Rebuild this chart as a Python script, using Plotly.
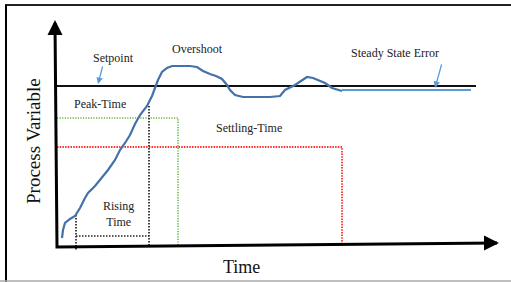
import plotly.graph_objects as go

# ---- data (diagram coordinates: x = time, y = process variable in screen units, y reversed) ----
curve_x = [62, 63, 65, 70, 75, 80, 85, 88, 95, 100, 108, 115, 120, 125, 130, 135, 140, 147, 152, 155,
           158, 162, 167, 172, 180, 190, 197, 203, 210, 216, 222, 227, 230, 235, 243, 255, 270, 280,
           285, 295, 302, 307, 313, 318, 325, 332, 342]
curve_y = [238, 230, 223, 219, 216, 208, 198, 193, 186, 180, 170, 160, 150, 143, 135, 124, 115, 106, 96, 88,
           80, 72, 68, 66, 66, 66, 67, 71, 74, 76, 79, 85, 90, 95, 97, 97, 97, 96,
           90, 85, 80, 77, 78, 80, 83, 88, 91]

setpoint_x = [57, 476]
setpoint_y = [86, 86]
steady_x = [342, 471]
steady_y = [90, 90]

axis_x = [55, 57, 497]
axis_y = [23, 247, 243]

green_x = [57, 178, 178]
green_y = [118, 118, 247]
red_x = [57, 342, 342]
red_y = [147, 147, 244]
black_dot_x = [149, 149, None, 76, 149, None, 76, 76]
black_dot_y = [106, 247, None, 236, 236, None, 215, 250]

labels = ["Setpoint", "Overshoot", "Peak-Time", "Settling-Time", "Steady State Error", "Rising<br>Time"]
label_x = [113, 197, 100, 249, 395, 118]
label_y = [58, 49, 104, 128, 53, 214]

fig = go.Figure()

def line(x, y, color, width, dash="solid"):
    fig.add_trace(go.Scatter(x=x, y=y, mode="lines", line=dict(color=color, width=width, dash=dash),
                             hoverinfo="skip", showlegend=False))

line(green_x, green_y, "#5cb83c", 1.6, "1.2px,1.4px")
line(red_x, red_y, "#ff3030", 1.8, "1.5px,1.2px")
line(black_dot_x, black_dot_y, "#222222", 1.7, "1.5px,1.5px")
line(setpoint_x, setpoint_y, "#111111", 2)
line(steady_x, steady_y, "#5b9bd5", 2)
line(curve_x, curve_y, "#4472a8", 2.2)
line(axis_x, axis_y, "#000000", 3)

# axis arrowheads
fig.add_annotation(x=axis_x[0], y=axis_y[0] - 3, ax=axis_x[0], ay=axis_y[0] + 6, xref="x", yref="y",
                   axref="x", ayref="y", showarrow=True, arrowhead=2, arrowsize=1, arrowwidth=3,
                   arrowcolor="#000000", text="")
fig.add_annotation(x=axis_x[2] + 2, y=axis_y[2], ax=axis_x[2] - 8, ay=axis_y[2], xref="x", yref="y",
                   axref="x", ayref="y", showarrow=True, arrowhead=2, arrowsize=1, arrowwidth=3,
                   arrowcolor="#000000", text="")

# pointer arrows
fig.add_annotation(x=98, y=84, ax=103, ay=65, xref="x", yref="y", axref="x", ayref="y",
                   showarrow=True, arrowhead=2, arrowsize=1, arrowwidth=1.3, arrowcolor="#5b9bd5", text="")
fig.add_annotation(x=435, y=88, ax=442, ay=63, xref="x", yref="y", axref="x", ayref="y",
                   showarrow=True, arrowhead=2, arrowsize=1, arrowwidth=1.3, arrowcolor="#5b9bd5", text="")

for t, x, y in zip(labels, label_x, label_y):
    fig.add_annotation(x=x, y=y, text=t, showarrow=False, xref="x", yref="y",
                       font=dict(family="Liberation Serif", size=12, color="#222222"))

fig.add_annotation(x=241, y=267, text="Time", showarrow=False, xref="x", yref="y",
                   font=dict(family="Liberation Serif", size=18, color="#111111"))
fig.add_annotation(x=33, y=141, text="Process Variable", showarrow=False, xref="x", yref="y",
                   textangle=-90, font=dict(family="Liberation Serif", size=19, color="#111111"))

# frame
fig.add_shape(type="line", x0=5, x1=511, y0=5, y1=5, xref="x", yref="y", line=dict(color="#222222", width=2))
fig.add_shape(type="line", x0=6, x1=6, y0=5, y1=282, xref="x", yref="y", line=dict(color="#000000", width=2))
fig.add_shape(type="line", x0=0, x1=511, y0=281, y1=281, xref="x", yref="y", line=dict(color="#aaaaaa", width=1.5))

fig.update_layout(width=511, height=282, margin=dict(l=0, r=0, t=0, b=0),
                  plot_bgcolor="white", paper_bgcolor="white",
                  xaxis=dict(range=[0, 511], visible=False, fixedrange=True),
                  yaxis=dict(range=[282, 0], visible=False, fixedrange=True))

fig.write_html("out.html", config={"displayModeBar": False},
               post_script="document.body.style.margin='0';document.body.style.overflow='hidden';")
